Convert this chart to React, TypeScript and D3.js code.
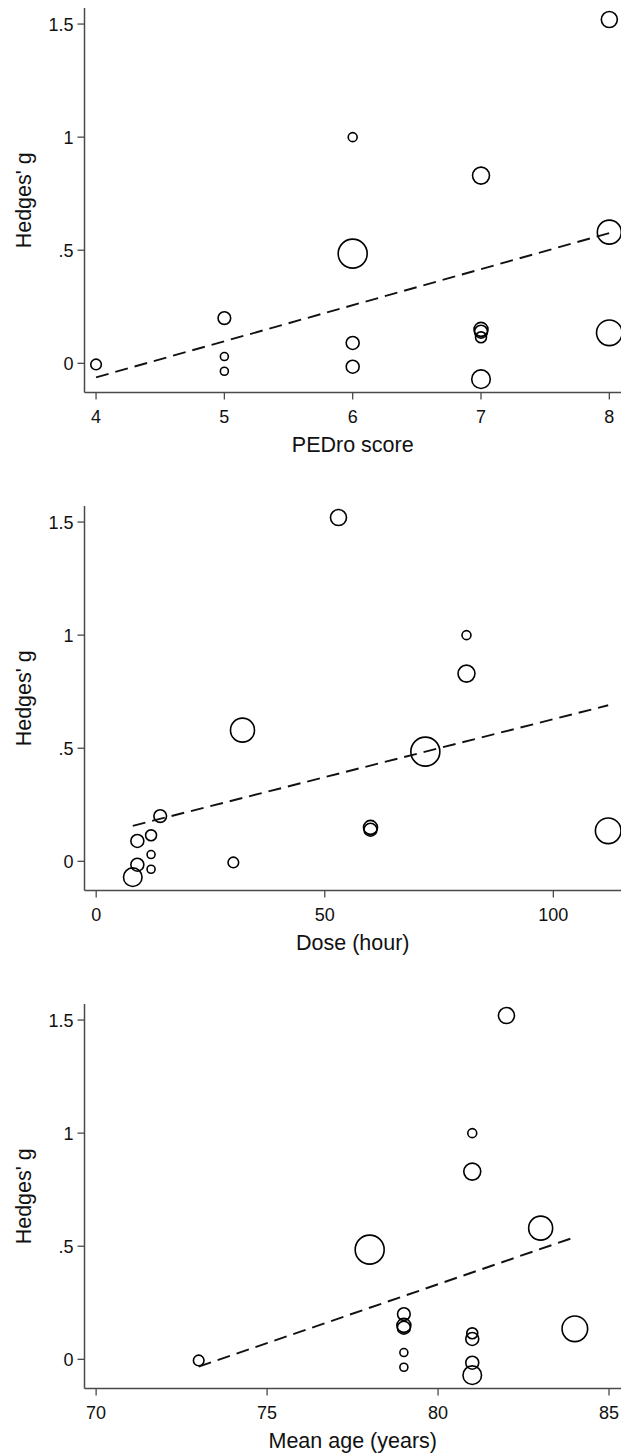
import React from 'react';
import * as d3 from 'd3';

// effect sizes (Hedges' g) per study and their weights
const hedgesG = [1.52, 1.0, 0.83, 0.58, 0.485, 0.2, 0.15, 0.14, 0.115, 0.09, 0.135, 0.03, -0.035, -0.015, -0.07, -0.005];
const weights = [64, 20, 72, 144, 210, 40, 49, 42, 30, 42, 164, 16, 16, 42, 86, 28];

// moderators
const pedro = [8, 6, 7, 8, 6, 5, 7, 7, 7, 6, 8, 5, 5, 6, 7, 4];
const doseHours = [53, 81, 81, 32, 72, 14, 60, 60, 12, 9, 112, 12, 12, 9, 8, 30];
const meanAge = [82, 81, 81, 83, 78, 79, 79, 79, 81, 81, 84, 79, 79, 81, 81, 73];

// fitted meta-regression lines (start / end)
const pedroFit = [[4, -0.062], [8, 0.576]];
const doseFit = [[8, 0.157], [112, 0.69]];
const ageFit = [[73, -0.032], [84, 0.54]];

const yTicks = [0, 0.5, 1, 1.5];
const yTickLabels = ['0', '.5', '1', '1.5'];
const pedroTicks = [4, 5, 6, 7, 8];
const doseTicks = [0, 50, 100];
const ageTicks = [70, 75, 80, 85];

const W = 621;
const H = 1453;
const AXIS_X = 84.5;
const AXIS_TOP = 8;
const AXIS_BOTTOM = 392.5;
const PANEL_STEP = 498;
const FONT = "'Liberation Sans', Arial, Helvetica, sans-serif";

const panels = [
  { xs: pedro, xDomain: [3.91, 8.091], ticks: pedroTicks, title: 'PEDro score', fit: pedroFit },
  { xs: doseHours, xDomain: [-2.56, 114.8], ticks: doseTicks, title: 'Dose (hour)', fit: doseFit },
  { xs: meanAge, xDomain: [69.66, 85.35], ticks: ageTicks, title: 'Mean age (years)', fit: ageFit },
];

const yScale = d3.scaleLinear().domain([-0.129, 1.571]).range([AXIS_BOTTOM, AXIS_TOP]);
const rScale = d3.scaleSqrt().domain([0, 1]).range([0, 1]);

const Panel = ({ p, i }: { p: any; i: number }) => {
  const x = d3.scaleLinear().domain(p.xDomain).range([AXIS_X, W]);
  const line = d3.line<number[]>().x(d => x(d[0])).y(d => yScale(d[1]));
  const axisColor = '#4a4a4a';
  return (
    <g transform={`translate(0,${i * PANEL_STEP})`}>
      {/* y axis */}
      <line x1={AXIS_X} x2={AXIS_X} y1={AXIS_TOP} y2={AXIS_BOTTOM} stroke={axisColor} strokeWidth={1.5} />
      {yTicks.map((t, k) => (
        <g key={t}>
          <line x1={AXIS_X - 7} x2={AXIS_X} y1={yScale(t)} y2={yScale(t)} stroke={axisColor} strokeWidth={1.3} />
          <text x={AXIS_X - 11} y={yScale(t)} dy="0.36em" textAnchor="end" fontSize={18} fill="#111">
            {yTickLabels[k]}
          </text>
        </g>
      ))}
      <text
        transform={`translate(31,${(AXIS_TOP + AXIS_BOTTOM) / 2}) rotate(-90)`}
        textAnchor="middle"
        fontSize={21.5}
        fill="#111"
      >
        Hedges' g
      </text>
      {/* x axis */}
      <line x1={AXIS_X} x2={W} y1={AXIS_BOTTOM} y2={AXIS_BOTTOM} stroke={axisColor} strokeWidth={1.5} />
      {p.ticks.map((t: number) => (
        <g key={t}>
          <line x1={x(t)} x2={x(t)} y1={AXIS_BOTTOM} y2={AXIS_BOTTOM + 7} stroke={axisColor} strokeWidth={1.3} />
          <text x={x(t)} y={AXIS_BOTTOM + 30.5} textAnchor="middle" fontSize={18} fill="#111">
            {t}
          </text>
        </g>
      ))}
      <text x={(AXIS_X + W) / 2} y={AXIS_BOTTOM + 59} textAnchor="middle" fontSize={21.5} fill="#111">
        {p.title}
      </text>
      {/* studies */}
      {hedgesG.map((g, k) => (
        <circle key={k} cx={x(p.xs[k])} cy={yScale(g)} r={rScale(weights[k])} fill="none" stroke="#000" strokeWidth={1.6} />
      ))}
      {/* fitted line */}
      <path d={line(p.fit) || ''} fill="none" stroke="#111" strokeWidth={1.9} strokeDasharray="13,7" />
    </g>
  );
};

export default function App() {
  return (
    <>
      <style>{`body{margin:0}`}</style>
      <svg width={W} height={H} style={{ display: 'block', background: '#fff', fontFamily: FONT }}>
        {panels.map((p, i) => (
          <Panel key={p.title} p={p} i={i} />
        ))}
      </svg>
    </>
  );
}
